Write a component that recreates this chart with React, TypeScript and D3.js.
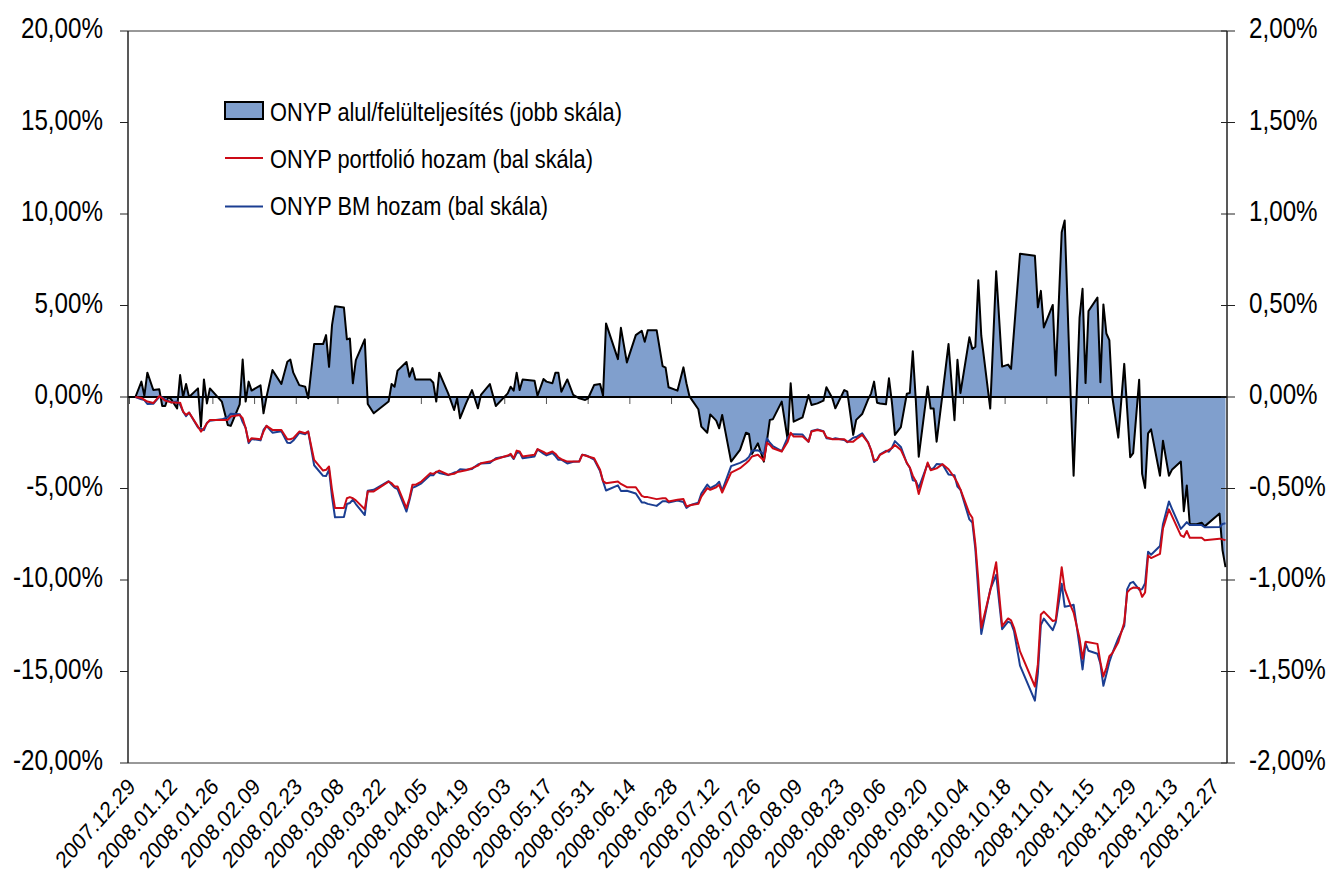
import * as d3 from "d3";

const W = 1333;
const H = 893;
const plot = { left: 128, right: 1227, top: 31, bottom: 763 };
const FONT = "'Liberation Sans', Arial, sans-serif";

const startDate = new Date(2007, 11, 29);

const dateLabels = [
  "2007.12.29", "2008.01.12", "2008.01.26", "2008.02.09", "2008.02.23",
  "2008.03.08", "2008.03.22", "2008.04.05", "2008.04.19", "2008.05.03",
  "2008.05.17", "2008.05.31", "2008.06.14", "2008.06.28", "2008.07.12",
  "2008.07.26", "2008.08.09", "2008.08.23", "2008.09.06", "2008.09.20",
  "2008.10.04", "2008.10.18", "2008.11.01", "2008.11.15", "2008.11.29",
  "2008.12.13", "2008.12.27",
];
const leftTicks = [20, 15, 10, 5, 0, -5, -10, -15, -20];
const rightTicks = [2, 1.5, 1, 0.5, 0, -0.5, -1, -1.5, -2];

const legendLabels = [
  "ONYP alul/felülteljesítés (jobb skála)",
  "ONYP portfolió hozam (bal skála)",
  "ONYP BM hozam (bal skála)",
];

// out/underperformance (right scale, %), days since 2007.12.29
const diffDays = [
  2, 4, 5, 6, 8, 10, 11, 12, 13, 14, 16, 17, 18, 19, 20, 23, 24, 25, 26, 27,
  31, 33, 34, 37, 38, 39, 40, 41, 44, 45, 46, 48, 51, 53, 54, 55, 57, 59, 60, 62,
  65, 66, 67, 68, 69, 72, 73, 74, 75, 76, 79, 80, 82, 87, 88, 89, 90, 93, 94, 95,
  96, 101, 102, 103, 104, 107, 109, 110, 111, 113, 115, 117, 118, 121, 123, 127, 128, 129, 130, 131,
  132, 136, 137, 139, 140, 142, 143, 144, 145, 147, 149, 151, 153, 154, 156, 158, 159, 160, 164, 165,
  167, 170, 172, 173, 174, 177, 179, 180, 181, 184, 186, 187, 188, 189, 191, 192, 194, 195, 197, 198,
  199, 202, 205, 207, 208, 209, 211, 213, 214, 215, 216, 219, 221, 222, 223, 226, 228, 229, 231, 233,
  234, 236, 237, 240, 241, 243, 244, 246, 248, 249, 250, 251, 252, 254, 255, 256, 257, 259, 261, 262,
  263, 264, 265, 268, 269, 270, 271, 273, 275, 277, 278, 279, 282, 283, 284, 285, 286, 289, 291, 293,
  295, 296, 299, 304, 305, 306, 307, 310, 311, 313, 314, 316, 317, 319, 320, 321, 322, 325, 326, 327,
  328, 329, 330, 332, 334, 336, 337, 339, 340, 341, 342, 343, 346, 347, 349, 350, 353, 354, 355, 356,
  358, 360, 361, 366, 367, 368,
];
const diffValues = [
  0, 0.084, 0.007, 0.133, 0.038, 0.042, -0.049, -0.049, 0, -0.013, -0.062, 0.12, 0, 0.071, 0, 0.047, -0.162, 0.096, -0.035, 0.047,
  -0.025, -0.153, -0.158, -0.04, 0.205, -0.025, 0.084, 0.035, 0.064, -0.089, 0, 0.147, 0.071, 0.193, 0.205, 0.133, 0.065, 0.056, -0.007, 0.289,
  0.289, 0.338, 0.165, 0.393, 0.496, 0.489, 0.315, 0.32, 0.075, 0.202, 0.315, -0.038, -0.089, -0.025, 0.071, 0.056, 0.144, 0.191, 0.111, 0.158,
  0.096, 0.096, 0.078, -0.025, 0.133, 0.02, -0.071, -0.007, -0.116, -0.035, 0.038, -0.062, 0.011, 0.071, -0.049, 0.02, 0.056, 0.035, 0.133, 0.038,
  0.096, 0.089, 0.007, 0.098, 0.084, 0.075, 0.133, 0.133, 0.029, 0.096, 0.011, -0.007, -0.016, -0.007, 0.065, 0.071, 0.007, 0.402, 0.207, 0.378,
  0.189, 0.338, 0.362, 0.302, 0.365, 0.365, 0.169, 0.16, 0.053, 0.035, 0.162, 0.075, 0.005, -0.02, -0.067, -0.162, -0.195, -0.095, -0.129, -0.171,
  -0.098, -0.353, -0.289, -0.195, -0.202, -0.311, -0.253, -0.353, -0.244, -0.125, -0.122, -0.025, -0.235, 0.075, -0.135, -0.111, 0.011, -0.044, -0.035, -0.02,
  0.053, -0.007, -0.062, 0.038, 0.029, -0.207, -0.125, -0.093, -0.013, 0.02, 0.084, -0.031, -0.035, -0.04, 0.102, -0.031, -0.207, -0.165, 0.018, 0.022,
  0.25, -0.014, -0.326, 0.058, -0.063, -0.063, -0.244, 0.018, 0.289, -0.127, 0.203, 0.022, 0.326, 0.262, 0.275, 0.638, 0.335, -0.063, 0.687, 0.166,
  0.177, 0.154, 0.783, 0.772, 0.49, 0.58, 0.38, 0.503, 0.118, 0.9, 0.964, 0, -0.43, 0.434, 0.591, 0.076, 0.47, 0.543, 0.081, 0.506,
  0.347, 0.311, 0, -0.222, 0.181, -0.329, -0.307, 0.094, -0.42, -0.497, -0.199, -0.177, -0.43, -0.239, -0.43, -0.398, -0.353, -0.624, -0.483, -0.696,
  -0.696, -0.687, -0.707, -0.637, -0.838, -0.93,
];

// portfolio and benchmark returns (left scale, %)
const retDays = [
  2, 4, 5, 6, 8, 10, 11, 12, 14, 16, 17, 18, 19, 20, 23, 24, 25, 26, 27, 31,
  33, 34, 37, 38, 39, 40, 41, 44, 45, 46, 48, 51, 53, 54, 55, 57, 59, 60, 62, 65,
  66, 67, 68, 69, 72, 73, 74, 75, 76, 79, 80, 82, 87, 88, 89, 90, 93, 94, 95, 96,
  98, 101, 102, 103, 104, 107, 109, 110, 111, 113, 115, 117, 118, 121, 123, 127, 128, 129, 130, 131,
  132, 136, 137, 139, 140, 142, 143, 144, 145, 147, 149, 151, 152, 153, 154, 156, 158, 159, 160, 164,
  165, 167, 170, 172, 173, 174, 177, 179, 180, 181, 184, 186, 187, 188, 189, 191, 192, 194, 195, 197,
  198, 199, 202, 205, 207, 208, 209, 211, 213, 214, 215, 216, 219, 221, 222, 223, 226, 228, 229, 231,
  233, 234, 236, 237, 240, 241, 243, 244, 246, 248, 249, 250, 251, 252, 254, 255, 256, 257, 259, 261,
  262, 263, 264, 265, 268, 269, 270, 271, 273, 275, 277, 278, 279, 282, 283, 284, 285, 286, 289, 291,
  293, 295, 296, 297, 299, 304, 305, 306, 307, 310, 311, 313, 314, 316, 317, 319, 320, 321, 322, 325,
  326, 327, 328, 329, 330, 332, 334, 335, 336, 337, 339, 340, 341, 342, 343, 346, 347, 349, 350, 353,
  354, 355, 356, 358, 360, 361, 366, 367, 368,
];
const portfolio = [
  0, -0.05, -0.16, -0.25, -0.33, 0.05, -0.07, -0.2, -0.29, -0.31, -0.31, -0.8, -0.98, -0.85, -1.62, -1.89, -1.71, -1.44, -1.25, -1.25,
  -1.25, -1.07, -0.98, -1.16, -1.71, -2.44, -2.25, -2.31, -1.89, -1.58, -1.8, -1.8, -2.31, -2.31, -2.25, -1.89, -1.98, -1.89, -3.44, -4.02,
  -3.98, -3.8, -5.07, -6.07, -6.07, -5.53, -5.47, -5.53, -5.65, -6.13, -5.16, -5.16, -4.62, -4.71, -4.89, -4.89, -6.07, -5.53, -4.8, -4.8,
  -4.62, -4.16, -4.2, -4.1, -4.02, -4.25, -4.2, -4.1, -4.07, -4.0, -3.89, -3.75, -3.62, -3.53, -3.4, -3.2, -3.11, -3.35, -2.93, -2.98,
  -3.25, -3.16, -2.85, -3.0, -3.11, -2.98, -3.1, -3.3, -3.4, -3.53, -3.53, -3.53, -3.16, -3.2, -3.25, -3.35, -3.98, -4.6, -4.71, -4.62,
  -4.75, -4.93, -4.93, -5.4, -5.47, -5.47, -5.58, -5.53, -5.53, -5.71, -5.62, -5.58, -5.98, -5.93, -5.89, -5.84, -5.44, -4.98, -5.07, -4.93,
  -4.8, -5.22, -4.13, -3.89, -3.62, -3.47, -3.25, -3.16, -3.47, -2.49, -2.62, -2.8, -2.98, -2.44, -1.95, -2.16, -2.16, -2.44, -1.89, -1.8,
  -1.89, -2.2, -2.31, -2.31, -2.31, -2.44, -2.44, -2.31, -2.07, -2.49, -2.89, -3.47, -3.44, -3.16, -2.98, -2.89, -2.8, -2.62, -2.89, -3.6,
  -3.85, -4.3, -4.6, -5.3, -3.58, -4.0, -3.95, -3.9, -3.67, -3.95, -4.4, -4.7, -5.05, -6.36, -6.6, -8.02, -10.0, -12.61, -10.59, -9.03,
  -12.52, -12.1, -12.21, -12.61, -13.9, -15.82, -14.6, -11.88, -11.73, -12.24, -12.2, -9.3, -10.5, -11.4, -11.78, -13.2, -14.3, -13.38, -13.4, -13.49,
  -14.5, -15.27, -14.8, -14.17, -14.0, -13.4, -12.33, -10.68, -10.5, -10.41, -10.44, -10.92, -10.68, -8.66, -8.8, -8.57, -7.19, -6.14, -6.5, -7.56,
  -7.65, -7.32, -7.69, -7.69, -7.69, -7.83, -7.74, -7.78, -7.83,
];
const benchmark = [
  0, -0.13, -0.17, -0.38, -0.37, 0.01, -0.02, -0.15, -0.28, -0.25, -0.43, -0.8, -1.05, -0.85, -1.67, -1.73, -1.81, -1.41, -1.3, -1.22,
  -1.1, -0.91, -0.94, -1.37, -1.68, -2.52, -2.29, -2.37, -1.8, -1.58, -1.95, -1.87, -2.5, -2.52, -2.38, -1.96, -2.04, -1.88, -3.73, -4.31,
  -4.32, -3.97, -5.46, -6.57, -6.56, -5.85, -5.79, -5.61, -5.85, -6.45, -5.12, -5.07, -4.6, -4.78, -4.95, -5.03, -6.26, -5.64, -4.96, -4.9,
  -4.72, -4.26, -4.28, -4.08, -4.15, -4.27, -4.13, -4.09, -3.95, -3.97, -3.93, -3.69, -3.63, -3.6, -3.35, -3.22, -3.17, -3.39, -3.06, -3.02,
  -3.35, -3.25, -2.86, -3.1, -3.19, -3.06, -3.23, -3.43, -3.43, -3.63, -3.54, -3.52, -3.15, -3.18, -3.24, -3.42, -4.05, -4.61, -5.11, -4.83,
  -5.13, -5.12, -5.27, -5.76, -5.77, -5.84, -5.95, -5.7, -5.69, -5.76, -5.66, -5.74, -6.06, -5.94, -5.87, -5.77, -5.28, -4.79, -4.98, -4.8,
  -4.63, -5.12, -3.78, -3.6, -3.43, -3.27, -2.94, -2.91, -3.12, -2.25, -2.5, -2.68, -2.96, -2.21, -2.03, -2.03, -2.05, -2.45, -1.85, -1.77,
  -1.87, -2.25, -2.3, -2.25, -2.35, -2.47, -2.23, -2.19, -1.98, -2.48, -2.91, -3.55, -3.41, -3.13, -2.94, -2.99, -2.77, -2.41, -2.73, -3.62,
  -3.87, -4.55, -4.59, -4.97, -3.64, -3.94, -3.89, -3.66, -3.69, -4.24, -4.27, -4.9, -5.07, -6.69, -6.86, -8.3, -10.64, -12.95, -10.53, -9.72,
  -12.69, -12.28, -12.36, -12.8, -14.68, -16.59, -15.09, -12.46, -12.11, -12.74, -12.32, -10.2, -11.46, -11.4, -11.35, -13.63, -14.89, -13.46, -13.87, -14.03,
  -14.58, -15.78, -15.15, -14.48, -14.0, -13.18, -12.51, -10.5, -10.17, -10.1, -10.53, -10.5, -10.18, -8.46, -8.62, -8.14, -6.95, -5.71, -6.1, -7.21,
  -7.03, -6.84, -6.99, -6.99, -7.0, -7.12, -7.1, -6.94, -6.9,
];

const AREA_FILL = "#809fcd";
const RED = "#cc0a16";
const BLUE = "#1b3e92";

const locale = d3.formatLocale({
  decimal: ",",
  thousands: " ",
  grouping: [3],
  currency: ["", ""],
  minus: "-",
});
const fmtPct = (v: number) => locale.format(".2f")(v) + "%";
const parseLabel = d3.timeParse("%Y.%m.%d");

const StretchText = ({ x, y, anchor, size, children }: any) => (
  <text
    transform={`translate(${x},${y}) scale(1,1.2)`}
    textAnchor={anchor}
    fontSize={size}
    fontFamily={FONT}
    fill="#000"
  >
    {children}
  </text>
);

const Chart = () => {
  const x = d3.scaleLinear().domain([-0.5, 368.5]).range([plot.left, plot.right]);
  const yL = d3.scaleLinear().domain([-20, 20]).range([plot.bottom, plot.top]);
  const yR = d3.scaleLinear().domain([-2, 2]).range([plot.bottom, plot.top]);

  const diffIdx = d3.range(diffDays.length);
  const retIdx = d3.range(retDays.length);

  const area = d3
    .area<number>()
    .x((i) => x(diffDays[i]))
    .y0(yR(0))
    .y1((i) => yR(diffValues[i]));
  const diffLine = d3
    .line<number>()
    .x((i) => x(diffDays[i]))
    .y((i) => yR(diffValues[i]));
  const portLine = d3
    .line<number>()
    .x((i) => x(retDays[i]))
    .y((i) => yL(portfolio[i]));
  const bmLine = d3
    .line<number>()
    .x((i) => x(retDays[i]))
    .y((i) => yL(benchmark[i]));

  const tickDays = dateLabels.map((s) => d3.timeDay.count(startDate, parseLabel(s) as Date));

  return (
    <svg width={W} height={H} style={{ position: "absolute", left: 0, top: 0, background: "#fff" }}>
      {/* plot frame */}
      <line x1={plot.left} x2={plot.right} y1={plot.top} y2={plot.top} stroke="#333" strokeWidth={1} />
      <line x1={plot.left} x2={plot.right} y1={plot.bottom} y2={plot.bottom} stroke="#333" strokeWidth={1} />

      {/* x ticks on zero line */}
      {tickDays.map((d, i) => (
        <line key={i} x1={x(d)} x2={x(d)} y1={yL(0)} y2={yL(0) + 7} stroke="#555" strokeWidth={1} />
      ))}

      {/* out/underperformance area */}
      <path d={area(diffIdx) ?? ""} fill={AREA_FILL} />
      <line x1={plot.left} x2={plot.right} y1={yL(0)} y2={yL(0)} stroke="#000" strokeWidth={2} />
      <path d={diffLine(diffIdx) ?? ""} fill="none" stroke="#000" strokeWidth={2} strokeLinejoin="round" />

      {/* return lines */}
      <path d={bmLine(retIdx) ?? ""} fill="none" stroke={BLUE} strokeWidth={2} strokeLinejoin="round" />
      <path d={portLine(retIdx) ?? ""} fill="none" stroke={RED} strokeWidth={2} strokeLinejoin="round" />

      {/* left axis */}
      <line x1={plot.left} x2={plot.left} y1={plot.top} y2={plot.bottom} stroke="#222" strokeWidth={1.5} />
      {leftTicks.map((t) => (
        <g key={t}>
          <line x1={plot.left - 8} x2={plot.left} y1={yL(t)} y2={yL(t)} stroke="#222" strokeWidth={1} />
          <StretchText x={103} y={yL(t) + 7} anchor="end" size={24.2}>
            {fmtPct(t)}
          </StretchText>
        </g>
      ))}

      {/* right axis */}
      <line x1={plot.right} x2={plot.right} y1={plot.top} y2={plot.bottom} stroke="#222" strokeWidth={1.5} />
      {rightTicks.map((t) => (
        <g key={t}>
          <line x1={plot.right - 6} x2={plot.right + 8} y1={yR(t)} y2={yR(t)} stroke="#222" strokeWidth={1} />
          <StretchText x={1249} y={yR(t) + 7} anchor="start" size={24.2}>
            {fmtPct(t)}
          </StretchText>
        </g>
      ))}

      {/* date labels */}
      {tickDays.map((d, i) => (
        <text
          key={i}
          transform={`translate(${x(d) + 7},788) scale(1,1.12) rotate(-45)`}
          textAnchor="end"
          fontSize={20.5}
          fontFamily={FONT}
          fill="#000"
        >
          {dateLabels[i]}
        </text>
      ))}

      {/* legend */}
      <rect x={225} y={102} width={38} height={17} fill={AREA_FILL} stroke="#000" strokeWidth={2} />
      <line x1={225} x2={263} y1={158} y2={158} stroke={RED} strokeWidth={2} />
      <line x1={225} x2={263} y1={206.5} y2={206.5} stroke={BLUE} strokeWidth={2} />
      <StretchText x={270} y={120.5} anchor="start" size={21.8}>
        {legendLabels[0]}
      </StretchText>
      <StretchText x={270} y={167.5} anchor="start" size={21.8}>
        {legendLabels[1]}
      </StretchText>
      <StretchText x={270} y={215} anchor="start" size={21.8}>
        {legendLabels[2]}
      </StretchText>
    </svg>
  );
};

export default function App() {
  return <Chart />;
}
